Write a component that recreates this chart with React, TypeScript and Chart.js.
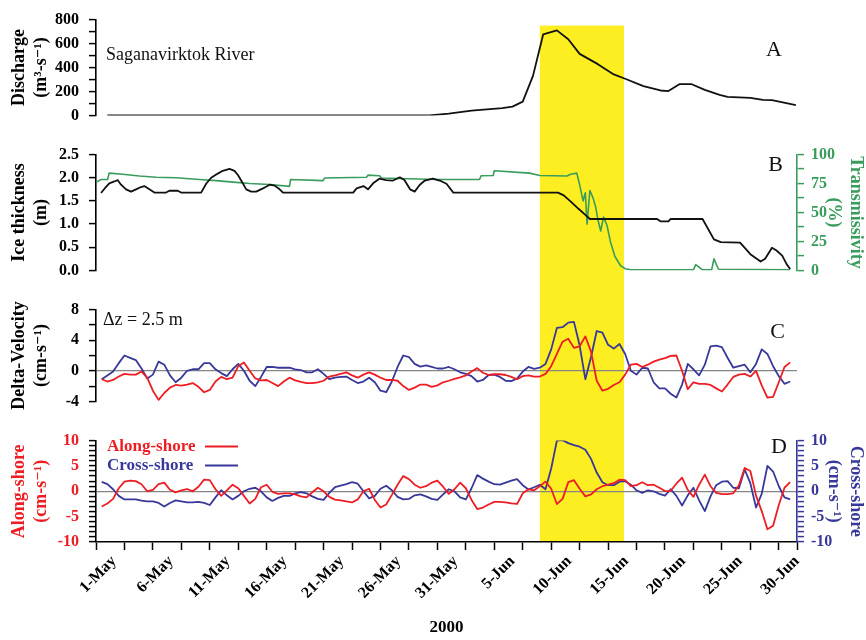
import React, { useEffect, useRef } from 'react';
import { Chart, registerables } from 'chart.js';

Chart.register(...registerables);

// ---------------- data ----------------
const xTickLabels = ['1-May', '6-May', '11-May', '16-May', '21-May', '26-May', '31-May', '5-Jun', '10-Jun', '15-Jun', '20-Jun', '25-Jun', '30-Jun'];

// days since 1 May 2000
const meltStart = 39.0;
const meltEnd = 46.4;

// Panel A: Saganavirktok River discharge (m3/s) [day, value]
const discharge: [number, number][] = [
  [1, 0], [29.3, 0], [31, 15], [33, 40], [35.7, 61], [36.6, 73], [37.5, 115], [38.4, 330], [39.3, 677],
  [40.5, 710], [41.5, 636], [42.5, 514], [44.1, 428], [45.5, 342], [46.5, 306], [48.1, 245], [49.6, 208],
  [50.3, 203], [51.3, 262], [52.3, 262], [53.5, 213], [54.8, 171], [55.5, 154], [57.5, 147], [58.6, 130],
  [59.4, 127], [61.5, 86],
];

// Panel B: ice thickness (m) [day, value]
const iceThickness: [number, number][] = [
  [0.44, 1.67], [0.8, 1.78], [1.17, 1.88], [1.61, 1.92], [1.9, 1.95], [2.2, 1.85], [2.64, 1.75], [3.08, 1.7],
  [3.52, 1.75], [3.96, 1.8], [4.25, 1.82], [4.69, 1.75], [5.13, 1.68], [6.16, 1.68], [6.45, 1.72], [7.18, 1.72],
  [7.48, 1.68], [9.24, 1.68], [9.68, 1.87], [10.12, 2.0], [10.7, 2.09], [11.14, 2.15], [11.73, 2.19], [12.17, 2.15],
  [12.47, 2.06], [12.9, 1.88], [13.2, 1.75], [13.64, 1.7], [14.08, 1.7], [14.67, 1.77], [15.26, 1.85], [15.7, 1.83],
  [16.14, 1.75], [16.43, 1.68], [22.6, 1.68], [22.9, 1.77], [23.5, 1.82], [23.9, 1.75], [24.35, 1.88], [24.9, 1.98],
  [25.5, 1.95], [26.1, 1.94], [26.7, 2.01], [27.1, 1.95], [27.6, 1.75], [28.0, 1.7], [28.46, 1.85], [28.9, 1.94],
  [29.6, 1.98], [30.2, 1.94], [30.8, 1.87], [31.4, 1.68], [40.6, 1.68], [41.1, 1.62], [41.7, 1.49], [42.4, 1.33],
  [43.0, 1.2], [43.4, 1.11], [49.3, 1.11], [49.6, 1.06], [50.3, 1.06], [50.5, 1.11], [53.3, 1.11], [54.3, 0.67],
  [54.9, 0.61], [56.6, 0.6], [57.5, 0.35], [58.4, 0.19], [58.8, 0.25], [59.4, 0.49], [59.8, 0.43], [60.3, 0.32],
  [60.7, 0.13], [61.0, 0.03],
];

// Panel B: transmissivity (%) [day, value]
const transmissivity: [number, number][] = [
  [0.0, 76], [0.44, 78.5], [1.02, 78.5], [1.15, 84], [2.34, 83], [3.81, 81.5], [5.28, 80.5], [7.04, 80],
  [9.09, 78.5], [10.56, 77.5], [12.32, 76], [13.5, 75], [15.26, 74.2], [17.0, 72.6], [17.1, 78.5], [19.95, 77.5],
  [20.1, 79.8], [23.77, 80.5], [23.9, 82.3], [24.9, 81.8], [25.1, 79.8], [27.3, 79.2], [30.2, 78.5], [33.7, 78.5],
  [33.85, 81.8], [34.9, 82], [35.0, 86.1], [38.1, 84], [39.0, 82], [41.4, 81.5], [41.7, 83], [42.25, 84],
  [42.5, 74], [42.8, 60], [43.0, 67], [43.15, 40], [43.4, 69], [43.7, 62], [43.9, 55], [44.1, 44],
  [44.35, 34], [44.6, 46], [44.9, 39], [45.2, 25], [45.6, 12], [46.1, 4], [46.5, 1.5], [47.0, 0.5],
  [52.5, 0.5], [52.7, 5], [53.3, 0.5], [54.1, 0.5], [54.3, 10], [54.7, 1], [61.0, 0.5],
];

// Panels C and D share a half-day time grid
const velDays = [
  0.5, 1, 1.5, 2, 2.5, 3, 3.5, 4, 4.5, 5,
  5.5, 6, 6.5, 7, 7.5, 8, 8.5, 9, 9.5, 10,
  10.5, 11, 11.5, 12, 12.5, 13, 13.5, 14, 14.5, 15,
  15.5, 16, 16.5, 17, 17.5, 18, 18.5, 19, 19.5, 20,
  20.5, 21, 21.5, 22, 22.5, 23, 23.5, 24, 24.5, 25,
  25.5, 26, 26.5, 27, 27.5, 28, 28.5, 29, 29.5, 30,
  30.5, 31, 31.5, 32, 32.5, 33, 33.5, 34, 34.5, 35,
  35.5, 36, 36.5, 37, 37.5, 38, 38.5, 39, 39.5, 40,
  40.5, 41, 41.5, 42, 42.5, 43, 43.5, 44, 44.5, 45,
  45.5, 46, 46.5, 47, 47.5, 48, 48.5, 49, 49.5, 50,
  50.5, 51, 51.5, 52, 52.5, 53, 53.5, 54, 54.5, 55,
  55.5, 56, 56.5, 57, 57.5, 58, 58.5, 59, 59.5, 60,
  60.5, 61,
];

// Panel C: delta-velocity (cm/s), dz = 2.5 m
const deltaVelAlong = [
  -1.1, -1.4, -1.2, -0.75, -0.4, -0.5, -0.5, -0.1, -0.9, -2.6,
  -3.8, -2.9, -2.2, -1.85, -1.95, -1.8, -1.6, -2.1, -2.8, -2.5,
  -1.4, -0.8, -1.1, -0.9, 0.6, 1.1, 0.0, -1.0, -1.25, -1.2,
  -1.6, -2.0, -1.4, -0.9, -1.25, -1.45, -1.6, -1.6, -1.5, -1.3,
  -0.75, -0.6, -0.4, -0.2, -0.6, -0.9, -0.5, -0.2, -0.5, -0.9,
  -1.2, -1.2, -1.3, -2.0, -2.5, -2.2, -1.8, -1.8, -2.1, -1.9,
  -1.5, -1.3, -1.05, -0.85, -0.6, -0.1, 0.35, -0.25, -0.55, -0.45,
  -0.45, -0.55, -0.8, -1.1, -0.7, -0.6, -0.75, -0.75, -0.4, 0.6,
  2.2, 3.8, 4.2, 3.0, 3.2, 4.5, 2.5, -1.3, -2.6, -2.35,
  -1.85, -1.5, -0.5, 0.8, 0.9, 0.5, 0.8, 1.2, 1.45, 1.65,
  1.95, 2.0, 0.0, -2.4, -1.5, -1.7, -1.7, -1.85, -2.3, -2.7,
  -1.8, -0.8, -0.5, -0.4, -0.75, 0.0, -1.9, -3.5, -3.4, -1.5,
  0.5, 1.1,
];
const deltaVelCross = [
  -1.1, -0.6, -0.1, 1.0, 2.0, 1.7, 1.4, 0.3, -1.0, -0.5,
  1.2, 0.8, -0.6, -1.5, -0.9, 0.0, 0.2, 0.2, 1.0, 1.0,
  0.2, -0.3, -0.7, 0.2, 0.9, 0.0, -1.3, -2.0, -0.8, 0.5,
  0.5, 0.4, 0.4, 0.4, 0.2, 0.1, -0.2, -0.2, 0.2, -0.4,
  -1.1, -0.9, -0.8, -0.75, -1.2, -1.6, -1.4, -0.9, -1.5, -2.6,
  -2.8, -1.4, 0.5, 2.0, 1.8, 0.9, 0.55, 0.7, 0.5, 0.3,
  0.3, 0.5, 0.2, -0.2, -0.4, -0.7, -1.4, -1.2, -0.55, -0.5,
  -0.8, -1.3, -1.35, -1.0, -0.1, 0.5, 0.25, 0.4, 0.9, 2.8,
  5.6, 5.7, 6.3, 6.4, 3.3, -1.1, 1.8, 5.2, 5.0, 3.4,
  2.9, 3.5, 2.2, 0.0, -0.5, 0.4, 0.3, -1.5, -2.3, -2.3,
  -3.0, -3.5, -1.8, 0.9, 0.2, -0.6, 0.8, 3.2, 3.3, 3.1,
  1.7, 0.4, 0.6, 0.8, -0.2, 0.9, 2.8, 2.2, 0.6, -0.7,
  -1.7, -1.4,
];

// Panel D: along-shore and cross-shore currents (cm/s)
const currentAlong = [
  -3.0, -2.4, -1.5, 0.6, 1.9, 2.1, 2.0, 1.4, 0.0, 0.3,
  1.4, 1.7, 0.3, -0.2, 0.2, 0.45, 0.0, 0.9, 2.3, 2.2,
  0.4, -0.9, 0.2, 1.3, 0.6, -0.9, -2.4, -1.5, 0.8, 1.3,
  -0.1, -0.5, -0.4, -0.4, -0.6, -1.0, -1.2, -0.2, 0.7, 0.0,
  -1.1, -1.65, -1.8, -2.0, -2.2, -1.6, 0.0, 0.5, -1.7, -3.2,
  -2.6, -0.7, 1.3, 3.0, 2.4, 1.3, 0.7, 1.0, 1.7, 2.1,
  0.9, -0.5, 0.4, 1.7, 0.6, -1.7, -3.5, -3.2, -2.6, -2.1,
  -2.1, -2.2, -2.4, -2.5, -0.4, 0.4, 0.2, 1.0, 1.9, 0.5,
  -2.5, -1.5, 1.8, 2.2, 0.5, -1.0, -0.6, 0.4, 1.0, 1.3,
  1.6, 2.3, 2.2, 1.0, 1.2, 1.8, 1.2, 1.3, 0.7, 0.05,
  0.1, 1.5, 2.7, 0.3, -1.1, 1.3, 3.3, 1.0, -0.3, -0.55,
  -0.55, -0.4, 1.2, 4.6, 4.0, -0.85, -3.9, -7.5, -6.8, -2.7,
  0.7, 1.8,
];
const currentCross = [
  1.85, 1.4, 0.4, -0.9, -1.6, -1.6, -1.6, -1.85, -2.0, -2.0,
  -2.3, -3.0, -2.3, -1.8, -2.0, -2.2, -2.2, -2.1, -2.3, -2.7,
  -1.2, 0.2, -0.8, -1.6, -0.9, 0.0, 0.5, 0.7, 0.0, -1.2,
  -1.9, -1.3, -0.9, -0.9, -0.4, -0.15, -0.4, -1.0, -1.5, -1.7,
  -0.3, 0.8, 1.1, 1.4, 1.8, 1.5, 0.0, -1.4, -0.9, 0.5,
  1.1, 0.2, -1.1, -1.6, -1.5, -0.8, -0.6, -1.0, -1.5, -1.7,
  -0.6, 0.4, 0.0, -1.2, -1.6, 0.6, 3.2, 2.5, 1.9, 1.4,
  1.3, 1.7, 2.1, 2.4, 1.2, 0.35, 0.8, 1.3, 0.4, 4.5,
  10.0, 10.1, 9.5, 9.1, 8.8, 8.2, 6.4, 3.7, 1.8, 1.2,
  1.2, 1.9, 2.0, 1.3, 0.2, -0.3, 0.2, 0.0, -0.5, -0.85,
  0.4, -0.9, -2.8, -0.8, 0.7, -1.8, -3.9, -1.0, 1.2, 1.9,
  2.0, 0.7, 0.6, 4.3, 1.6, -3.2, -0.5, 5.0, 3.9, 1.0,
  -1.2, -1.6,
];

// ---------------- styling / layout ----------------
const W = 866;
const X_MIN = 0;
const X_MAX = 61.6;
const PLOT_LEFT = 96;
const RIGHT_GUTTER = 69;
const X_AXIS_HEIGHT = 98;
const FONT = '"Liberation Serif", "Times New Roman", "DejaVu Serif", serif';
const RED = '#ee1d23';
const BLUE = '#38389a';
const GREEN = '#3a9c5c';
const BLACK = '#111111';
const YELLOW = '#fcee21';
const ZERO_COLOR = '#858585';
const TICK_FONT = { family: FONT, size: 16, weight: 'bold' as const };
const TITLE_FONT = { family: FONT, size: 18, weight: 'bold' as const, lineHeight: 1.2 };

const isMultiple = (v: number, m: number) => Math.abs(v / m - Math.round(v / m)) < 1e-6;
const fromPairs = (pairs: [number, number][]) => pairs.map(([x, y]) => ({ x, y }));
const zipXY = (xs: number[], ys: number[]) => xs.map((x, i) => ({ x, y: ys[i] }));

function xScale(show: boolean) {
  return {
    type: 'linear',
    min: X_MIN,
    max: X_MAX,
    bounds: 'data',
    display: show,
    afterFit: (s: any) => {
      if (show) s.height = X_AXIS_HEIGHT;
    },
    ticks: {
      stepSize: 2.5,
      includeBounds: false,
      autoSkip: false,
      minRotation: 45,
      maxRotation: 45,
      labelOffset: 18,
      padding: 2,
      color: '#000',
      font: TICK_FONT,
      callback: (v: any) => {
        const n = Number(v);
        return isMultiple(n, 5) ? xTickLabels[Math.round(n / 5)] ?? '' : '';
      },
    },
    grid: { drawOnChartArea: false, drawTicks: true, tickLength: 8, tickColor: '#000', tickWidth: 1.5 },
    border: { display: true, color: '#000', width: 1.6 },
    title: { display: true, text: '2000', color: '#000', font: { family: FONT, size: 17, weight: 'bold' as const, lineHeight: 1.2 }, padding: { top: 0, bottom: 2 } },
  };
}

function yScale(o: {
  position: 'left' | 'right';
  min: number;
  max: number;
  step: number;
  fmt: (v: number) => string;
  axisColor: string;
  labelColor: string;
  title: string[];
  zeroLine?: boolean;
}) {
  const left = o.position === 'left';
  return {
    type: 'linear',
    position: o.position,
    min: o.min,
    max: o.max,
    bounds: 'data',
    afterFit: (s: any) => {
      s.width = left ? PLOT_LEFT : RIGHT_GUTTER;
    },
    ticks: {
      stepSize: o.step,
      autoSkip: false,
      padding: left ? 10 : 7,
      color: o.labelColor,
      font: TICK_FONT,
      callback: (v: any) => o.fmt(Number(v)),
    },
    grid: {
      drawOnChartArea: !!o.zeroLine,
      color: (c: any) => (o.zeroLine && c.tick && Math.abs(c.tick.value) < 1e-9 ? ZERO_COLOR : 'rgba(0,0,0,0)'),
      lineWidth: 1.2,
      drawTicks: true,
      tickLength: 7,
      tickColor: o.axisColor,
      tickWidth: 1.5,
    },
    border: { display: true, color: o.axisColor, width: 1.6 },
    title: {
      display: true,
      text: o.title,
      color: o.labelColor,
      font: TITLE_FONT,
      padding: { top: left ? 9 : 0, bottom: 0 },
    },
  };
}

function baseOptions(padding: { top: number; bottom: number; left: number; right: number }) {
  return {
    responsive: false,
    maintainAspectRatio: false,
    animation: false,
    devicePixelRatio: 1,
    events: [],
    layout: { padding },
    plugins: { legend: { display: false }, tooltip: { enabled: false } },
    elements: { point: { radius: 0 }, line: { tension: 0, borderJoinStyle: 'round' } },
  };
}

// Yellow band for the melt period, positioned through the x scale
function bandPlugin(opts: { topValue?: number; toAreaBottom?: boolean }) {
  return {
    id: 'meltBand',
    beforeDraw(chart: any) {
      const { ctx, scales, chartArea } = chart;
      const x0 = scales.x.getPixelForValue(meltStart);
      const x1 = scales.x.getPixelForValue(meltEnd);
      const top = opts.topValue !== undefined ? scales.y.getPixelForValue(opts.topValue) : 0;
      const bottom = opts.toAreaBottom ? chartArea.bottom : chart.height;
      ctx.save();
      ctx.fillStyle = YELLOW;
      ctx.fillRect(x0, top, x1 - x0, bottom - top);
      ctx.restore();
    },
  };
}

type TextItem = { text: string; dx: number; dy: number; fromRight?: boolean; size: number; bold?: boolean; color?: string };
function textPlugin(items: TextItem[]) {
  return {
    id: 'panelText',
    afterDatasetsDraw(chart: any) {
      const { ctx, chartArea } = chart;
      ctx.save();
      ctx.textBaseline = 'middle';
      for (const it of items) {
        ctx.font = `${it.bold ? 'bold ' : ''}${it.size}px ${FONT}`;
        ctx.fillStyle = it.color || '#111';
        ctx.textAlign = it.fromRight ? 'right' : 'left';
        const x = it.fromRight ? chartArea.right - it.dx : chartArea.left + it.dx;
        ctx.fillText(it.text, x, chartArea.top + it.dy);
      }
      ctx.restore();
    },
  };
}

// Legend with the line sample to the right of each label (as in the figure)
const legendPlugin = {
  id: 'rightSwatchLegend',
  afterDatasetsDraw(chart: any) {
    const { ctx, chartArea } = chart;
    ctx.save();
    ctx.textBaseline = 'middle';
    ctx.textAlign = 'left';
    ctx.font = `bold 17px ${FONT}`;
    chart.data.datasets.forEach((ds: any, i: number) => {
      const y = chartArea.top + 6 + i * 19;
      ctx.fillStyle = ds.borderColor;
      ctx.fillText(ds.label, chartArea.left + 11, y);
      ctx.strokeStyle = ds.borderColor;
      ctx.lineWidth = 2;
      ctx.beginPath();
      ctx.moveTo(chartArea.left + 109, y);
      ctx.lineTo(chartArea.left + 142, y);
      ctx.stroke();
    });
    ctx.restore();
  },
};

function configA(): any {
  return {
    type: 'line',
    data: {
      datasets: [{ label: 'Discharge', data: fromPairs(discharge), borderColor: BLACK, borderWidth: 1.8, xAxisID: 'x', yAxisID: 'y' }],
    },
    options: {
      ...baseOptions({ top: 16, bottom: 10, left: 0, right: RIGHT_GUTTER }),
      scales: {
        x: xScale(false),
        y: yScale({
          position: 'left', min: 0, max: 800, step: 100,
          fmt: (v) => (isMultiple(v, 200) ? String(Math.round(v)) : ''),
          axisColor: '#000', labelColor: '#000', title: ['Discharge', '(m³-s⁻¹)'],
        }),
      },
    },
    plugins: [
      bandPlugin({ topValue: 750 }),
      textPlugin([
        { text: 'Saganavirktok River', dx: 10, dy: 36, size: 18 },
        { text: 'A', dx: 15, dy: 31, fromRight: true, size: 22 },
      ]),
    ],
  };
}

function configB(): any {
  return {
    type: 'line',
    data: {
      datasets: [
        { label: 'Ice thickness', data: fromPairs(iceThickness), borderColor: BLACK, borderWidth: 1.8, xAxisID: 'x', yAxisID: 'y' },
        { label: 'Transmissivity', data: fromPairs(transmissivity), borderColor: GREEN, borderWidth: 1.6, xAxisID: 'x', yAxisID: 'y2' },
      ],
    },
    options: {
      ...baseOptions({ top: 11.5, bottom: 11.5, left: 0, right: 0 }),
      scales: {
        x: xScale(false),
        y: yScale({
          position: 'left', min: 0, max: 2.5, step: 0.5,
          fmt: (v) => v.toFixed(1),
          axisColor: '#000', labelColor: '#000', title: ['Ice thickness', '(m)'],
        }),
        y2: yScale({
          position: 'right', min: 0, max: 100, step: 12.5,
          fmt: (v) => (isMultiple(v, 25) ? String(Math.round(v)) : ''),
          axisColor: GREEN, labelColor: GREEN, title: ['Transmissivity', '(%)'],
        }),
      },
    },
    plugins: [bandPlugin({}), textPlugin([{ text: 'B', dx: 14, dy: 10.5, fromRight: true, size: 22 }])],
  };
}

function configC(): any {
  return {
    type: 'line',
    data: {
      datasets: [
        { label: 'Along-shore', data: zipXY(velDays, deltaVelAlong), borderColor: RED, borderWidth: 1.8, xAxisID: 'x', yAxisID: 'y' },
        { label: 'Cross-shore', data: zipXY(velDays, deltaVelCross), borderColor: BLUE, borderWidth: 1.8, xAxisID: 'x', yAxisID: 'y' },
      ],
    },
    options: {
      ...baseOptions({ top: 12, bottom: 11, left: 0, right: RIGHT_GUTTER }),
      scales: {
        x: xScale(false),
        y: yScale({
          position: 'left', min: -4, max: 8, step: 2,
          fmt: (v) => (isMultiple(v, 4) ? String(Math.round(v)) : ''),
          axisColor: '#000', labelColor: '#000', title: ['Delta-Velocity', '(cm-s⁻¹)'], zeroLine: true,
        }),
      },
    },
    plugins: [
      bandPlugin({}),
      textPlugin([
        { text: 'Δz = 2.5 m', dx: 7, dy: 11, size: 18 },
        { text: 'C', dx: 12, dy: 23, fromRight: true, size: 22 },
      ]),
    ],
  };
}

function configD(): any {
  return {
    type: 'line',
    data: {
      datasets: [
        { label: 'Along-shore', data: zipXY(velDays, currentAlong), borderColor: RED, borderWidth: 1.8, xAxisID: 'x', yAxisID: 'y' },
        { label: 'Cross-shore', data: zipXY(velDays, currentCross), borderColor: BLUE, borderWidth: 1.8, xAxisID: 'x', yAxisID: 'y2' },
      ],
    },
    options: {
      ...baseOptions({ top: 12, bottom: 0, left: 0, right: 0 }),
      scales: {
        x: xScale(true),
        y: yScale({
          position: 'left', min: -10, max: 10, step: 1,
          fmt: (v) => (isMultiple(v, 5) ? String(Math.round(v)) : ''),
          axisColor: '#000', labelColor: RED, title: ['Along-shore', '(cm-s⁻¹)'], zeroLine: true,
        }),
        y2: yScale({
          position: 'right', min: -10, max: 10, step: 1,
          fmt: (v) => (isMultiple(v, 5) ? String(Math.round(v)) : ''),
          axisColor: BLUE, labelColor: BLUE, title: ['Cross-shore', '(cm-s⁻¹)'],
        }),
      },
    },
    plugins: [
      bandPlugin({ toAreaBottom: true }),
      textPlugin([{ text: 'D', dx: 10, dy: 7, fromRight: true, size: 22 }]),
      legendPlugin,
    ],
  };
}

function Panel({ top, height, make }: { top: number; height: number; make: () => any }) {
  const ref = useRef<HTMLCanvasElement>(null);
  useEffect(() => {
    if (!ref.current) return;
    const chart = new Chart(ref.current, make());
    return () => chart.destroy();
  }, []);
  return (
    <canvas
      ref={ref}
      width={W}
      height={height}
      style={{ position: 'absolute', left: 0, top, width: W, height, display: 'block' }}
    />
  );
}

export default function App() {
  return (
    <div style={{ position: 'absolute', left: 0, top: 0, width: W, height: 640, background: '#fff', overflow: 'hidden' }}>
      <Panel top={0} height={135} make={configA} />
      <Panel top={135} height={155} make={configB} />
      <Panel top={290} height={131} make={configC} />
      <Panel top={421} height={219} make={configD} />
    </div>
  );
}
